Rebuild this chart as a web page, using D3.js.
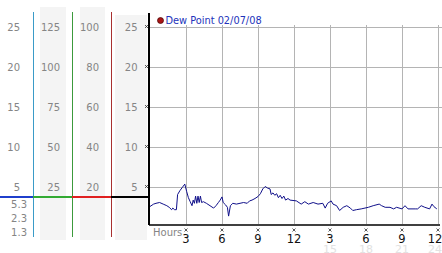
<!DOCTYPE html>
<html><head><meta charset="utf-8">
<script src="https://cdn.jsdelivr.net/npm/d3@7"></script>
<style>html,body{margin:0;padding:0;background:#fff;}svg{display:block;}</style>
</head><body><svg id="c" width="442" height="253"></svg>
<script>
// ---- data ----
const seriesName = "Dew Point 02/07/08";
const hours = [0,0.3,0.5,0.8,1.1,1.4,1.6,1.8,1.9,2.05,2.2,2.3,2.5,2.7,2.9,3.05,3.2,3.35,3.5,3.6,3.7,3.8,3.9,4.0,4.1,4.2,4.3,4.45,4.7,5.0,5.3,5.5,5.7,5.85,6.0,6.1,6.3,6.45,6.55,6.7,6.9,7.2,7.5,7.8,8.1,8.3,8.5,8.75,9.0,9.2,9.4,9.6,9.8,10.0,10.1,10.25,10.4,10.55,10.7,10.85,11.0,11.15,11.3,11.5,11.67,12.2,12.6,12.9,13.2,13.6,14.0,14.4,14.6,14.8,15.1,15.25,15.55,15.8,16.1,16.4,16.7,16.9,17.2,17.6,18.2,18.6,19.1,19.3,19.6,20.0,20.3,20.55,21.0,21.25,21.5,22.1,22.3,22.6,22.9,23.3,23.5,23.65,23.9];
const dewPoint = [2.5,2.8,2.9,3.0,2.8,2.6,2.4,2.1,2.3,2.1,2.1,4.0,4.5,4.9,5.3,4.4,3.6,3.1,2.6,3.3,2.9,3.8,2.9,3.8,3.0,3.8,3.0,3.1,2.9,2.6,2.3,2.6,3.0,3.3,3.7,3.0,2.7,2.4,1.3,2.6,2.9,2.8,2.9,3.0,2.9,3.2,3.3,3.5,3.75,4.1,4.7,5.0,4.8,4.7,4.0,4.2,3.9,4.1,3.6,3.9,3.5,3.8,3.3,3.5,3.3,3.2,2.8,3.1,2.8,3.0,2.8,2.9,2.3,2.9,3.2,2.8,2.6,2.0,2.4,2.6,2.3,2.0,2.1,2.2,2.4,2.6,2.8,2.6,2.4,2.4,2.2,2.4,2.2,2.6,2.2,2.2,2.2,2.6,2.4,2.2,2.8,2.5,2.2];
const yTicks = [5,10,15,20,25];
const col1Labels = ["25","20","15","10","5"];
const col2Labels = ["125","100","75","50","25"];
const col3Labels = ["100","80","60","40","20"];
const col4Labels = ["25","20","15","10","5"];
const extraLabels = ["5.3","2.3","1.3"];
const xTickHours = [3,6,9,12,15,18,21,24];
const xTickLabels = ["3","6","9","12","3","6","9","12"];
const xFaintHours = [15,18,21,24];
const xFaintLabels = ["15","18","21","24"];

// ---- scales ----
const x = d3.scaleLinear().domain([0,24]).range([150,438]);
const y = d3.scaleLinear().domain([0,25]).range([226.5,26.5]);
const svg = d3.select("#c");
const font = "DejaVu Sans, Verdana, sans-serif";

// left panel backgrounds
[[40,66,7],[80,105,7],[115,147,15]].forEach(([a,b,t])=>{
  svg.append("rect").attr("x",a).attr("y",t).attr("width",b-a).attr("height",240-t).attr("fill","#f4f4f4");
});
// vertical colored lines
[[33.5,"#3a9bc8"],[72.5,"#3c9a3c"],[111.5,"#a83030"]].forEach(([xx,c])=>{
  svg.append("line").attr("x1",xx).attr("x2",xx).attr("y1",12).attr("y2",237).attr("stroke",c).attr("stroke-width",1);
});
// horizontal colored segments
[[0,33,"#1f3fcc"],[33,72,"#33aa33"],[72,111,"#e02020"],[111,149,"#000"]].forEach(([a,b,c])=>{
  svg.append("line").attr("x1",a).attr("x2",b).attr("y1",197).attr("y2",197).attr("stroke",c).attr("stroke-width",2);
});

// left labels
function colLabels(labels, xr){
  svg.append("g").selectAll("text").data(labels).join("text")
    .attr("x",xr).attr("y",(d,i)=>y(yTicks[yTicks.length-1-i])+4)
    .attr("text-anchor","end").attr("font-family",font).attr("font-size",10).attr("fill","#858585")
    .text(d=>d);
}
colLabels(col1Labels,20);
colLabels(col2Labels,60);
colLabels(col3Labels,99);
colLabels(col4Labels,137.5);
svg.append("g").selectAll("text").data(extraLabels).join("text")
  .attr("x",27).attr("y",(d,i)=>208+i*14).attr("text-anchor","end")
  .attr("font-family",font).attr("font-size",10).attr("fill","#858585").text(d=>d);

// grid
svg.append("g").selectAll("line").data(yTicks).join("line")
  .attr("x1",150).attr("x2",442).attr("y1",d=>Math.round(y(d))+0.5).attr("y2",d=>Math.round(y(d))+0.5)
  .attr("stroke","#b4b4b4").attr("stroke-width",1);
svg.append("g").selectAll("line").data(xTickHours).join("line")
  .attr("x1",d=>Math.round(x(d))+0.5).attr("x2",d=>Math.round(x(d))+0.5).attr("y1",25).attr("y2",224)
  .attr("stroke","#b4b4b4").attr("stroke-width",1);

// axes
svg.append("line").attr("x1",149).attr("x2",149).attr("y1",13).attr("y2",225).attr("stroke","#000").attr("stroke-width",2);
svg.append("line").attr("x1",149).attr("x2",440).attr("y1",225).attr("y2",225).attr("stroke","#000").attr("stroke-width",1.5);

// tick glyphs (tiny x marks)
function xmark(cx,cy){
  svg.append("path").attr("d",`M${cx-1.5},${cy-1.5}L${cx+1.5},${cy+1.5}M${cx+1.5},${cy-1.5}L${cx-1.5},${cy+1.5}`)
    .attr("stroke","#333").attr("stroke-width",0.8).attr("fill","none");
}
yTicks.forEach(v=>xmark(146.5,y(v)));
xTickHours.forEach(h=>xmark(x(h),230));

// bottom labels (faint day-hour labels drawn first, behind)
svg.append("g").selectAll("text").data(xFaintLabels).join("text")
  .attr("x",(d,i)=>Math.min(x(xFaintHours[i]),435)).attr("y",253).attr("text-anchor","middle")
  .attr("font-family",font).attr("font-size",11).attr("fill","#e2e2e2").text(d=>d);
svg.append("text").attr("x",153).attr("y",235.5).attr("font-family",font).attr("font-size",10).attr("fill","#858585").text("Hours");
svg.append("g").selectAll("text").data(xTickLabels).join("text")
  .attr("x",(d,i)=>Math.min(x(xTickHours[i]),435)).attr("y",242.5).attr("text-anchor","middle")
  .attr("font-family",font).attr("font-size",11.5).attr("fill","#111").text(d=>d);

// series line
const pts = hours.map((h,i)=>[h,dewPoint[i]]);
svg.append("path").datum(pts)
  .attr("d",d3.line().x(d=>x(d[0])).y(d=>y(d[1])))
  .attr("fill","none").attr("stroke","#10108a").attr("stroke-width",1);

// legend
svg.append("circle").attr("cx",160.5).attr("cy",20.5).attr("r",3).attr("fill","#aa1515").attr("stroke","#400").attr("stroke-width",0.7);
svg.append("text").attr("x",165.5).attr("y",24).attr("font-family",font).attr("font-size",9.8).attr("fill","#2233bb").text(seriesName);
</script></body></html>
